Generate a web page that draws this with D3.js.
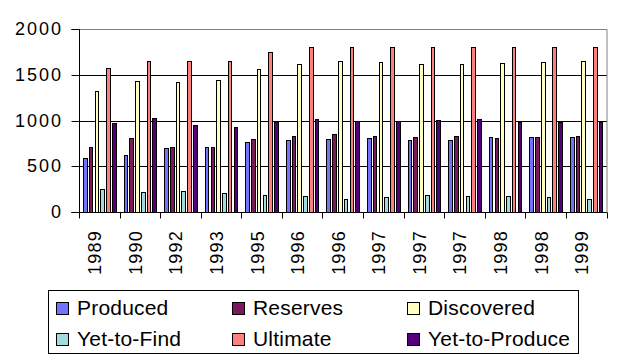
<!DOCTYPE html>
<html><head><meta charset="utf-8">
<script src="https://cdn.jsdelivr.net/npm/d3@7"></script>
<style>
html,body{margin:0;padding:0;background:#fff;}
svg{display:block;font-family:"Liberation Sans",Arial,sans-serif;}
</style></head>
<body>
<svg id="chart" width="618" height="360"></svg>
<script>
const categories = ["1989","1990","1992","1993","1995","1996","1996","1997","1997","1997","1998","1998","1999"];
const seriesNames = ["Produced","Reserves","Discovered","Yet-to-Find","Ultimate","Yet-to-Produce"];
const produced     = [600, 625, 700, 720, 767, 789, 800, 811, 789, 789, 822, 822, 822];
const reserves     = [720, 811, 720, 720, 800, 833, 855, 833, 822, 833, 811, 822, 833];
const discovered   = [1326,1436,1425,1447,1567,1622,1655,1644,1622,1622,1633,1644,1655];
const yetToFind    = [252, 219, 230, 208, 186, 175, 153, 164, 186, 175, 175, 164, 153];
const ultimate     = [1578,1655,1655,1655,1753,1808,1808,1808,1808,1808,1808,1808,1808];
const yetToProduce = [975, 1030, 953, 931, 986, 1019, 997, 997, 1008, 1019, 986, 986, 986];
const yTicks = [0, 500, 1000, 1500, 2000];
const colors = ["#7373FF","#7B1A5A","#FFFFC0","#A0DCDC","#FF7F7F","#55007A"];

const seriesValues = [produced, reserves, discovered, yetToFind, ultimate, yetToProduce];

const svg = d3.select("#chart");
const pL = 79.5, pR = 607, pT = 29.5, pB = 212.5;

const x0 = d3.scaleBand().domain(d3.range(categories.length)).range([pL, pR]).padding(0);
const x1 = d3.scaleBand().domain(d3.range(seriesNames.length)).range([3.5, 37]).paddingInner(0.2).paddingOuter(0);
const y = d3.scaleLinear().domain([0, 2000]).range([pB, pT]);
const snapY = v => Math.round(y(v) - 0.5) + 0.5;

// gridlines
svg.append("g").selectAll("line").data(yTicks.filter(v => v > 0 && v < 2000)).join("line")
  .attr("x1", pL).attr("x2", pR)
  .attr("y1", d => snapY(d)).attr("y2", d => snapY(d))
  .attr("stroke", "#000").attr("stroke-width", 1);

// plot border top/right grey
svg.append("path")
  .attr("d", `M${pL},${pT}H${pR}V${pB}`)
  .attr("fill", "none").attr("stroke", "#808080").attr("stroke-width", 1);

// bars
const groups = svg.append("g").selectAll("g").data(categories.map((c, i) => i)).join("g");
groups.selectAll("rect").data(i => seriesValues.map((arr, s) => ({i, s, v: arr[i]}))).join("rect")
  .attr("x", d => Math.round(x0(d.i) + x1(d.s)) + 0.5)
  .attr("width", d => Math.round(x0(d.i) + x1(d.s) + x1.bandwidth()) - Math.round(x0(d.i) + x1(d.s)) - 1)
  .attr("y", d => Math.round(y(d.v)) + 0.5)
  .attr("height", d => pB - (Math.round(y(d.v)) + 0.5))
  .attr("fill", d => colors[d.s])
  .attr("stroke", "#000").attr("stroke-width", 1);

// y axis
const yAxis = d3.axisLeft(y).tickValues(yTicks).tickSize(8).tickPadding(8.5).tickFormat(d3.format("d"));
const gy = svg.append("g").attr("transform", `translate(${pL},0)`).call(yAxis);
gy.select(".domain").attr("stroke", "#000").attr("d", `M-8,${pT}H0V${pB}H-8`);
gy.selectAll(".tick line").attr("stroke", "#000");
gy.selectAll(".tick").attr("transform", d => `translate(0,${snapY(d)})`);
gy.selectAll(".tick text").attr("fill", "#000").style("font-size", "18px").style("letter-spacing", "2px")
  .style("font-family", "'Liberation Sans',Arial,sans-serif");

// x axis line + boundary ticks
const boundaries = d3.range(categories.length).map(i => x0(i)).concat([pR]);
svg.append("line").attr("x1", pL).attr("x2", pR).attr("y1", pB).attr("y2", pB)
  .attr("stroke", "#000");
svg.append("g").selectAll("line").data(boundaries).join("line")
  .attr("x1", d => Math.round(d - 0.5) + 0.5).attr("x2", d => Math.round(d - 0.5) + 0.5)
  .attr("y1", pB).attr("y2", pB + 6).attr("stroke", "#000");

// x labels
svg.append("g").selectAll("text").data(categories).join("text")
  .attr("transform", (d, i) => `translate(${x0(i) + x0.bandwidth() / 2 + 1.5},230) rotate(-90)`)
  .attr("text-anchor", "end")
  .style("font-size", "18px").style("letter-spacing", "1.2px")
  .attr("fill", "#000")
  .text(d => d);

// legend
const legend = svg.append("g");
legend.append("rect").attr("x", 48.5).attr("y", 290.5).attr("width", 530).attr("height", 63)
  .attr("fill", "#fff").attr("stroke", "#000");
const colX = [56.5, 232.5, 407.5];
const rowY = [302.5, 333.5];
const items = legend.selectAll("g").data(seriesNames).join("g")
  .attr("transform", (d, k) => `translate(${colX[k % 3]},${rowY[Math.floor(k / 3)]})`);
items.append("rect").attr("width", 12).attr("height", 12)
  .attr("fill", (d, k) => colors[k]).attr("stroke", "#000");
items.append("text").attr("x", 20.5).attr("y", 12)
  .style("font-size", "21px").style("letter-spacing", "0.2px").attr("fill", "#000").text(d => d);
</script>
</body></html>
